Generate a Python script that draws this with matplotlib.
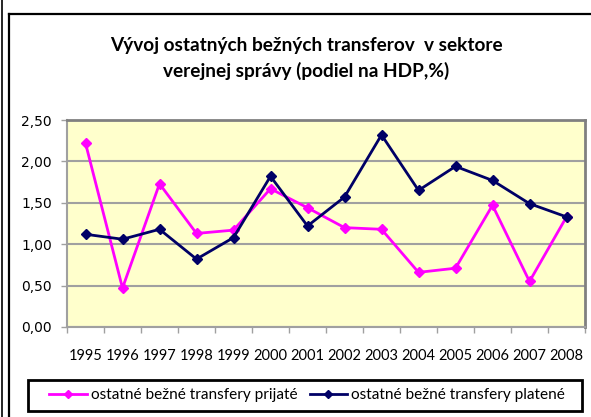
import matplotlib.pyplot as plt
import numpy as np
from matplotlib.patches import Rectangle
from matplotlib.lines import Line2D

years = ['1995', '1996', '1997', '1998', '1999', '2000', '2001',
         '2002', '2003', '2004', '2005', '2006', '2007', '2008']
prijate = [2.22, 0.47, 1.73, 1.13, 1.17, 1.67, 1.44,
           1.20, 1.18, 0.66, 0.71, 1.47, 0.55, 1.33]
platene = [1.12, 1.06, 1.18, 0.82, 1.08, 1.82, 1.22,
           1.57, 2.32, 1.65, 1.94, 1.77, 1.49, 1.33]
yticks = [0.0, 0.5, 1.0, 1.5, 2.0, 2.5]

W, H = 591, 417
fig = plt.figure(figsize=(W / 100, H / 100), dpi=100)

# outer frames
fig.add_artist(Line2D([2 / W, 2 / W], [0, 1], color='black', lw=1.2, transform=fig.transFigure))
fig.add_artist(Line2D([8.5 / W, 8.5 / W], [0, 1 - 13.5 / H], color='black', lw=1.6, transform=fig.transFigure))
fig.add_artist(Line2D([8.5 / W, 1], [1 - 13.5 / H, 1 - 13.5 / H], color='black', lw=1.6, transform=fig.transFigure))

ax = fig.add_axes([67 / W, 1 - 327 / H, (585 - 67) / W, (327 - 120) / H])
ax.set_facecolor('#FFFFCC')

x = np.arange(len(years))
ax.plot(x, prijate, color='#FF00FF', lw=2.0, marker='D', ms=5, zorder=3)
ax.plot(x, platene, color='#000066', lw=2.0, marker='D', ms=5, zorder=4)

ax.set_xlim(-0.5, len(years) - 0.5)
ax.set_ylim(0, 2.5)
ax.set_yticks(yticks)
ax.set_yticklabels([f'{v:.2f}'.replace('.', ',') for v in yticks], fontsize=10, family='DejaVu Sans')
ax.yaxis.grid(True, color='#A0A0A0', lw=1.5, zorder=1)
ax.set_axisbelow(True)

ax.set_xticks(x)
ax.set_xticklabels(years, fontsize=10.5, family='Lato')
ax.tick_params(axis='x', length=0, pad=16)
ax.set_xticks(np.arange(-0.5, len(years)), minor=True)
ax.tick_params(axis='x', which='minor', length=4, color='#A0A0A0', width=1)
ax.tick_params(axis='y', length=4, color='#A0A0A0', width=1, pad=7)

for s in ['left', 'bottom']:
    ax.spines[s].set_color('#A0A0A0')
    ax.spines[s].set_linewidth(1.5)
for s in ['top', 'right']:
    ax.spines[s].set_color('#808080')
    ax.spines[s].set_linewidth(2.0)

fig.text(306 / W, 1 - 46 / H, 'Vývoj ostatných bežných transferov  v sektore',
         ha='center', va='center', fontsize=13.7, fontweight='bold', family='Lato')
fig.text(306 / W, 1 - 71 / H, 'verejnej správy (podiel na HDP,%)',
         ha='center', va='center', fontsize=13.7, fontweight='bold', family='Lato')

# legend box
fig.add_artist(Rectangle((28 / W, 1 - 411 / H), (582 - 28) / W, (411 - 380) / H,
                         fill=False, edgecolor='black', lw=2, transform=fig.transFigure))
handles = [Line2D([], [], color='#FF00FF', lw=2, marker='D', ms=4.5),
           Line2D([], [], color='#000066', lw=2, marker='D', ms=4.5)]
fig.legend(handles, ['ostatné bežné transfery prijaté', 'ostatné bežné transfery platené'],
           loc='center', bbox_to_anchor=(307 / W, 1 - 395.5 / H), ncol=2, frameon=False,
           prop={'family': 'Lato', 'size': 11.1}, handlelength=2.45, handletextpad=0.25,
           columnspacing=0.8)

plt.savefig('out.png', dpi=100)
